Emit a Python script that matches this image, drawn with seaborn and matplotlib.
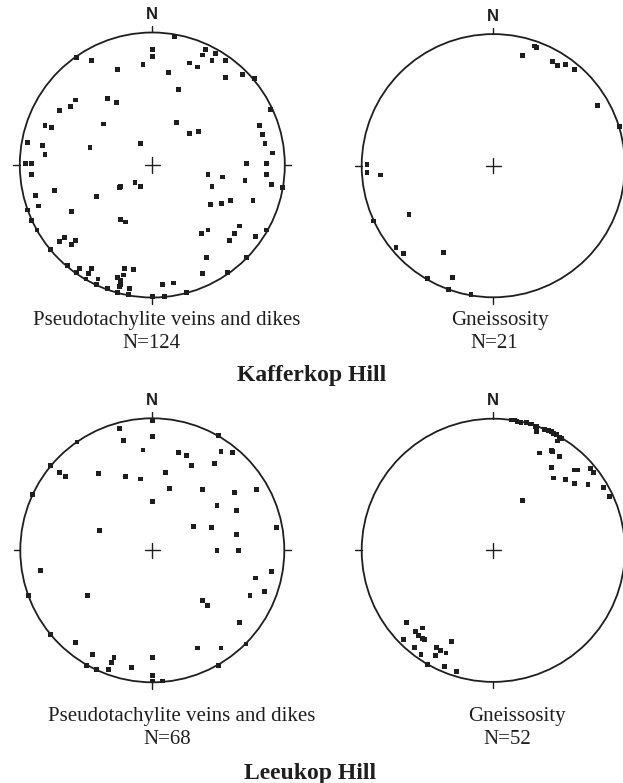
import numpy as np
import pandas as pd
import seaborn as sns
import matplotlib
import matplotlib.pyplot as plt
from matplotlib.patches import Circle

matplotlib.use('Agg')
sns.set_style('white')

# Полюса: восток / север в процентах от радиуса сетки
kaff_pst_east = [17, 0, 0, -57, -46, 40, 38, 48, 45, 55, -7, 28, 34, -26, 12, 55, 68, 77, 20, -58,
                 -62, -70, -34, -27, 89, -37, 18, -81, -76, 81, 28, 35, 83, -94, -83, -47, -9, 85, -81, 91,
                 -96, -91, 71, 86, -91, 42, 53, 86, -13, -9, -25, -24, 70, 45, 90, 98, -74, -42, -88, -86,
                 -94, 44, 52, 59, 76, -61, -91, -24, -20, -87, 37, 42, 66, 62, 58, 78, 86, -66, -70, -58,
                 -61, -77, 41, 71, -64, -55, -46, -21, -14, -57, -48, -22, 38, 57, -50, -41, -24, -42, -24, -25,
                 8, 16, -34, -17, -26, -18, 26, 0, 9, -24, -26]
kaff_pst_north = [97, 87, 82, 81, 79, 87, 83, 84, 79, 79, 76, 77, 74, 72, 70, 66, 68, 65, 57, 49,
                  44, 41, 50, 47, 42, 31, 32, 30, 28, 30, 24, 25, 23, 17, 15, 13, 16, 16, 8, 9,
                  1, 1, 1, 1, -7, -7, -9, -7, -13, -16, -17, -16, -12, -16, -15, -17, -19, -24, -23, -31,
                  -34, -30, -29, -27, -27, -35, -42, -41, -43, -49, -52, -49, -46, -52, -57, -54, -49, -55, -58, -57,
                  -60, -64, -70, -70, -76, -78, -78, -78, -79, -81, -82, -83, -82, -81, -86, -86, -87, -90, -90, -92,
                  -90, -89, -93, -93, -96, -98, -96, -99, -99, -88, -85]

kaff_gn_east = [31, 33, 22, 45, 49, 55, 62, 79, 96, -96, -96, -86, -64, -91, -74, -68, -38, -50, -31, -34, -17]
kaff_gn_north = [91, 90, 84, 79, 76, 77, 73, 46, 30, 1, -5, -7, -37, -42, -62, -67, -66, -86, -85, -94, -98]

leeu_pst_east = [0, -25, 0, 50, -22, -57, -7, 52, 61, 20, 26, 47, 30, -77, -70, -66, -41, -20, -9, 10,
                 13, 38, 62, 79, -91, 0, 49, 64, 31, 45, 94, -40, 64, 49, 65, -85, 90, 78, 85, -94,
                 -49, 74, 38, 42, 66, -77, -58, 71, 34, 52, -45, -29, 0, -31, -50, 50, -42, -33, -16, 0,
                 0, 8]
leeu_pst_north = [98, 92, 86, 87, 83, 82, 76, 75, 74, 74, 72, 66, 64, 64, 59, 56, 58, 56, 54, 59,
                  47, 46, 44, 46, 42, 37, 34, 30, 18, 17, 17, 15, 12, 0, 0, -15, -16, -21, -31, -34,
                  -34, -34, -38, -42, -55, -64, -70, -71, -74, -74, -79, -81, -81, -85, -87, -87, -90, -90, -89, -95,
                  -99, -99]

leeu_gn_east = [14, 16, 18, 21, 28, 29, 32, 33, 39, 42, 44, 46, 48, 50, 52, 25, 33, 49, 35, 44,
                45, 50, 44, 62, 64, 74, 76, 46, 55, 62, 72, 84, 88, 22,
                -66, -54, -59, -57, -54, -52, -68, -32, -60, -43, -40, -36, -55, -44, -50, -37, -28]
leeu_gn_north = [99, 99, 98, 97, 96, 96, 94, 94, 92, 91, 90, 89, 88, 86, 85, 97, 90, 83, 74, 76,
                 75, 71, 63, 61, 61, 62, 59, 55, 54, 51, 50, 48, 41, 38,
                 -55, -59, -62, -65, -67, -68, -68, -69, -74, -74, -76, -78, -79, -80, -87, -88, -92]

captions = ['Pseudotachylite veins and dikes', 'Gneissosity',
            'Pseudotachylite veins and dikes', 'Gneissosity']
counts = ['N=124', 'N=21', 'N=68', 'N=52']
site_names = ['Kafferkop Hill', 'Leeukop Hill']

W, H = 623, 783
fig = plt.figure(figsize=(W / 100, H / 100), dpi=100)

# центр и радиус каждой сетки в пикселях
nets = [
    (kaff_pst_east, kaff_pst_north, 152.3, 165.0, 132.5),
    (kaff_gn_east, kaff_gn_north, 493.3, 165.7, 131.6),
    (leeu_pst_east, leeu_pst_north, 152.3, 550.3, 132.0),
    (leeu_gn_east, leeu_gn_north, 493.3, 550.3, 131.6),
]
L = 1.25
ink = '#1e1e1e'

for east, north, cx, cy, r in nets:
    ax = fig.add_axes([(cx - L * r) / W, 1 - (cy + L * r) / H, 2 * L * r / W, 2 * L * r / H])
    df = pd.DataFrame({'east': np.array(east) / 100, 'north': np.array(north) / 100})
    sns.scatterplot(data=df, x='east', y='north', marker='s', s=12, color=ink,
                    edgecolor='none', linewidth=0, ax=ax, zorder=3)
    ax.add_patch(Circle((0, 0), 1, fill=False, edgecolor=ink, lw=1.3, zorder=2))
    t = 0.05
    for x0, y0, x1, y1 in [(0, 1, 0, 1 + t), (0, -1, 0, -1 - t), (1, 0, 1 + t, 0), (-1, 0, -1 - t, 0)]:
        ax.plot([x0, x1], [y0, y1], color=ink, lw=1.0)
    c = 0.057
    ax.plot([-c, c], [0, 0], color=ink, lw=1.0)
    ax.plot([0, 0], [-c, c], color=ink, lw=1.0)
    ax.text(0, 1.135, 'N', ha='center', va='center', fontsize=12, fontweight='bold',
            family='Liberation Sans', color=ink)
    ax.set_xlim(-L, L)
    ax.set_ylim(-L, L)
    ax.set_aspect('equal')
    ax.axis('off')

serif = 'Liberation Serif'
cap_pos = [(167, 320), (500, 320), (182, 716), (517, 716)]
cnt_pos = [(151, 344), (494, 344), (167, 739), (507, 739)]
for text, (x, y) in zip(captions, cap_pos):
    fig.text(x / W, 1 - y / H, text, ha='center', va='center', fontsize=15, family=serif, color=ink)
for text, (x, y) in zip(counts, cnt_pos):
    fig.text(x / W, 1 - y / H, text, ha='center', va='center', fontsize=15, family=serif, color=ink)
for text, (x, y) in zip(site_names, [(312, 376), (310, 774)]):
    fig.text(x / W, 1 - y / H, text, ha='center', va='center', fontsize=17, fontweight='bold',
             family=serif, color=ink)

fig.savefig('out.png', dpi=100, facecolor='white')
